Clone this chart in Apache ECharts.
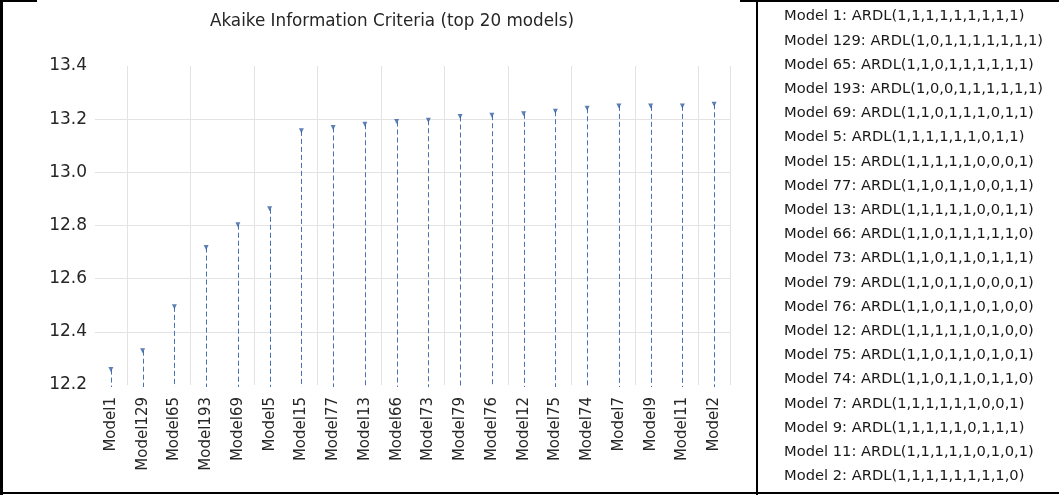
<!DOCTYPE html>
<html>
<head>
<meta charset="utf-8">
<script src="https://cdn.jsdelivr.net/npm/echarts@6/dist/echarts.min.js"></script>
<style>
html,body{margin:0;padding:0;background:#fff;}
#chart{width:1059px;height:495px;}
</style>
</head>
<body>
<div id="chart"></div>
<script>
// ---- data ----
const modelNumbers = [1, 129, 65, 193, 69, 5, 15, 77, 13, 66, 73, 79, 76, 12, 75, 74, 7, 9, 11, 2];
const categories = modelNumbers.map(n => 'Model' + n);
const aicValues = [12.258, 12.329, 12.494, 12.717, 12.803, 12.863, 13.156, 13.169, 13.181, 13.191,
                   13.196, 13.210, 13.215, 13.220, 13.230, 13.241, 13.250, 13.250, 13.250, 13.256];
const ardlSpecs = [
  '1,1,1,1,1,1,1,1,1', '1,0,1,1,1,1,1,1,1', '1,1,0,1,1,1,1,1,1', '1,0,0,1,1,1,1,1,1',
  '1,1,0,1,1,1,0,1,1', '1,1,1,1,1,1,0,1,1', '1,1,1,1,1,0,0,0,1', '1,1,0,1,1,0,0,1,1',
  '1,1,1,1,1,0,0,1,1', '1,1,0,1,1,1,1,1,0', '1,1,0,1,1,0,1,1,1', '1,1,0,1,1,0,0,0,1',
  '1,1,0,1,1,0,1,0,0', '1,1,1,1,1,0,1,0,0', '1,1,0,1,1,0,1,0,1', '1,1,0,1,1,0,1,1,0',
  '1,1,1,1,1,1,0,0,1', '1,1,1,1,1,0,1,1,1', '1,1,1,1,1,0,1,0,1', '1,1,1,1,1,1,1,1,0'
];
const yTicks = [12.2, 12.4, 12.6, 12.8, 13.0, 13.2, 13.4];
const titleText = 'Akaike Information Criteria (top 20 models)';

// ---- chart ----
const FONT = '"DejaVu Sans", sans-serif';
const chart = echarts.init(document.getElementById('chart'), null, {renderer: 'canvas'});
const yMin = yTicks[0], yMax = yTicks[yTicks.length - 1];

const listGraphics = modelNumbers.map((n, i) => ({
  type: 'text',
  left: 784,
  top: 9 + i * 24.2,
  style: {
    text: 'Model ' + n + ': ARDL(' + ardlSpecs[i] + ')',
    font: '14.7px ' + FONT,
    fill: '#1a1a1a'
  }
}));

const borderGraphics = [
  {type: 'rect', shape: {x: 0, y: 0, width: 3, height: 495}, style: {fill: '#000'}},
  {type: 'rect', shape: {x: 0, y: 492, width: 1059, height: 2}, style: {fill: '#000'}},
  {type: 'rect', shape: {x: 756, y: 0, width: 2, height: 495}, style: {fill: '#000'}},
  {type: 'rect', shape: {x: 0, y: 0, width: 37, height: 2}, style: {fill: '#000'}},
  {type: 'rect', shape: {x: 740, y: 0, width: 319, height: 2}, style: {fill: '#000'}}
];

chart.setOption({
  animation: false,
  backgroundColor: '#fff',
  title: {
    text: titleText,
    left: 387,
    top: 8,
    textAlign: 'center',
    textStyle: {fontFamily: FONT, fontSize: 16.8, fontWeight: 'normal', color: '#262626'}
  },
  grid: {left: 95, right: 329, top: 66, bottom: 110, containLabel: false},
  xAxis: {
    type: 'category',
    data: categories,
    boundaryGap: true,
    axisLine: {show: false},
    axisTick: {show: false},
    axisLabel: {
      rotate: 90, interval: 0, margin: 12,
      fontFamily: FONT, fontSize: 15, color: '#262626'
    },
    splitLine: {
      show: true,
      interval: (idx) => idx % 2 === 1,
      lineStyle: {color: '#e3e3e3', width: 1}
    }
  },
  yAxis: {
    type: 'value',
    min: yMin, max: yMax, interval: 0.2,
    axisLine: {show: false},
    axisTick: {show: false},
    axisLabel: {
      margin: 8, fontFamily: FONT, fontSize: 17, color: '#262626',
      formatter: v => v.toFixed(1)
    },
    splitLine: {
      show: true,
      lineStyle: {color: ['rgba(0,0,0,0)', '#e3e3e3', '#e3e3e3', '#e3e3e3', '#e3e3e3', '#e3e3e3', 'rgba(0,0,0,0)'], width: 1}
    }
  },
  series: [
    {
      type: 'custom',
      data: aicValues.map((v, i) => [i, v]),
      renderItem: function (params, api) {
        const top = api.coord([api.value(0), api.value(1)]);
        const bottom = api.coord([api.value(0), yMin]);
        const x = Math.round(top[0]) + 0.5;
        return {
          type: 'line',
          shape: {x1: x, y1: top[1], x2: x, y2: bottom[1] + 2},
          style: {stroke: '#4a6fb3', lineWidth: 1, lineDash: [5, 3]}
        };
      },
      z: 2
    },
    {
      type: 'scatter',
      data: aicValues.map((v, i) => [i, v]),
      symbol: 'triangle',
      symbolRotate: 180,
      symbolSize: [5, 5],
      itemStyle: {color: '#35609f'},
      z: 3
    }
  ],
  graphic: borderGraphics.concat(listGraphics)
});
</script>
</body>
</html>
